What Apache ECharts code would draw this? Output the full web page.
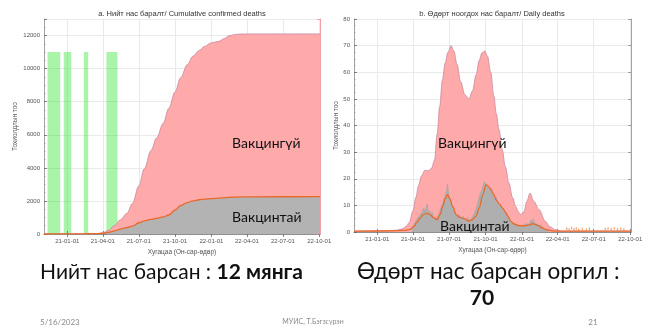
<!DOCTYPE html>
<html>
<head>
<meta charset="utf-8">
<script src="https://cdn.jsdelivr.net/npm/echarts@6/dist/echarts.min.js"></script>
<style>
html, body { margin: 0; padding: 0; background: #fff; }
#chart { width: 649px; height: 328px; }
</style>
</head>
<body>
<div id="chart"></div>
<script>
// ---- data ----
// quarterly tick dates shared by both panels
const tickDates = ['2021-01-01', '2021-04-01', '2021-07-01', '2021-10-01',
  '2022-01-01', '2022-04-01', '2022-07-01', '2022-10-01'];
const axisStart = '2020-11-03';
const axisEnd = '2022-10-03';

// lockdown periods (green bands)
const lockdownStarts = ['2020-11-12', '2020-12-23', '2021-02-12', '2021-04-10'];
const lockdownEnds = ['2020-12-14', '2021-01-11', '2021-02-23', '2021-05-08'];
const lockdownHeight = 11000;

// cumulative deaths
const cumDates = ['2020-11-03', '2020-12-15', '2021-01-15', '2021-02-15', '2021-03-05', '2021-03-20',
  '2021-04-01', '2021-04-15', '2021-05-01', '2021-05-15', '2021-06-01', '2021-06-15', '2021-07-01',
  '2021-07-15', '2021-08-01', '2021-08-15', '2021-09-01', '2021-09-15', '2021-10-01', '2021-10-15',
  '2021-11-01', '2021-11-15', '2021-12-01', '2021-12-15', '2022-01-01', '2022-01-20', '2022-02-01',
  '2022-02-15', '2022-03-01', '2022-03-15', '2022-04-15', '2022-10-03'];
const cumUnvaccinated = [0, 2, 5, 12, 20, 30, 70, 220, 520, 850, 1250, 1850, 2900, 3950, 5050, 5800,
  6700, 7600, 8600, 9450, 10250, 10750, 11100, 11350, 11560, 11650, 11800, 11980, 12060, 12090, 12100, 12100];
const cumVaccinated = [0, 2, 5, 12, 18, 25, 45, 100, 190, 290, 380, 480, 680, 790, 880, 950,
  1030, 1150, 1450, 1720, 1900, 2000, 2070, 2110, 2140, 2170, 2190, 2215, 2230, 2240, 2250, 2260];

// daily deaths without vaccination
const dailyDates = ['2020-11-03', '2020-12-15', '2021-01-20', '2021-02-20', '2021-03-05', '2021-03-15',
  '2021-03-22', '2021-04-01', '2021-04-08', '2021-04-15', '2021-04-22', '2021-05-01', '2021-05-10',
  '2021-05-18', '2021-05-25', '2021-06-01', '2021-06-07', '2021-06-14', '2021-06-21', '2021-06-28',
  '2021-07-06', '2021-07-13', '2021-07-21', '2021-07-30', '2021-08-10', '2021-08-20', '2021-08-29',
  '2021-09-07', '2021-09-15', '2021-09-22', '2021-09-29', '2021-10-06', '2021-10-14', '2021-10-22',
  '2021-10-28', '2021-11-04', '2021-11-12', '2021-11-20', '2021-11-29', '2021-12-08', '2021-12-16',
  '2021-12-23', '2021-12-29', '2022-01-06', '2022-01-13', '2022-01-21', '2022-01-31', '2022-02-13',
  '2022-03-01', '2022-03-12', '2022-03-27', '2022-04-10', '2022-10-03'];
const dailyUnvaccinated = [0.3, 0.3, 0.5, 0.7, 1.2, 2.2, 3.5, 8, 13, 17.5, 21, 23.2, 23, 24, 27, 37, 47,
  57, 63.5, 67.5, 70, 68, 63, 56.5, 51.5, 50, 53, 59, 64.5, 67.3, 68, 66, 60, 51, 44.5, 38.5, 31, 24.5,
  18.4, 13, 9.6, 7.5, 6.5, 7.7, 11.5, 14.6, 11.5, 8.4, 4, 2, 0.8, 0.3, 0.3];

// daily deaths with vaccination, smoothed
const smoothDates = ['2020-11-03', '2021-02-01', '2021-03-10', '2021-03-25', '2021-04-03', '2021-04-10',
  '2021-04-18', '2021-04-26', '2021-05-05', '2021-05-14', '2021-05-22', '2021-06-01', '2021-06-08',
  '2021-06-15', '2021-06-21', '2021-06-27', '2021-07-03', '2021-07-10', '2021-07-19', '2021-07-28',
  '2021-08-08', '2021-08-20', '2021-08-28', '2021-09-07', '2021-09-15', '2021-09-24', '2021-10-02',
  '2021-10-09', '2021-10-15', '2021-10-22', '2021-10-28', '2021-11-05', '2021-11-13', '2021-11-20',
  '2021-11-26', '2021-12-04', '2021-12-12', '2021-12-25', '2022-01-08', '2022-01-20', '2022-01-28',
  '2022-02-05', '2022-02-12', '2022-02-20', '2022-03-03', '2022-03-15', '2022-03-25', '2022-10-03'];
const dailyVaccinatedSmooth = [0.3, 0.4, 0.6, 1, 2, 3.5, 5, 6.5, 7, 6.5, 5.5, 4.6, 6.5, 9.6, 12.5, 14,
  12.5, 9.5, 6.5, 5.5, 5, 4.2, 4.5, 6, 9, 14, 17.8, 17, 15.8, 14, 12, 10.5, 9, 7.5, 6, 4, 3, 2.4, 2.3,
  2.7, 3.1, 2.8, 2.2, 1.6, 0.9, 0.5, 0.3, 0.3];

// daily deaths with vaccination, every third day from barStart
const barStart = '2021-03-29';
const barStepDays = 3;
const dailyVaccinated = [
  1.5, 2, 3, 3.5, 4.5, 4, 6, 5.5, 7, 6.5, 9, 7.5, 8, 10.5, 7, 8, 6, 7.5, 5.5, 6,
  4.5, 5, 6, 7, 8.5, 10, 11, 12.5, 13, 15, 18, 14, 13.5, 11, 10, 9, 7.5, 7, 6.5, 5.5,
  6.5, 5, 5.5, 6, 4.5, 5, 4, 5.5, 4, 4.5, 5, 5.5, 6.5, 7, 8.5, 10, 12, 13.5, 15, 16,
  17.5, 19, 18.5, 17, 17.5, 16, 15.5, 16.5, 14, 13.5, 12, 13, 11, 11.5, 10, 10.5, 9, 8.5, 8, 7,
  6.5, 5.5, 5, 4, 3.5, 3, 3.5, 2.5, 3, 2.5, 3, 2, 2.5, 2, 2.5, 3, 2.5, 3, 3.5, 3,
  4.5, 3.5, 5, 3.5, 4, 3, 3.5, 2.5, 2, 2.5, 1.5, 1.5, 1, 1, 0.8, 0.6, 0.5];

// scattered later deaths with vaccination
const tailDates = ['2022-04-24', '2022-04-30', '2022-05-06', '2022-05-12', '2022-05-18', '2022-05-24',
  '2022-06-02', '2022-06-12', '2022-06-20', '2022-07-30', '2022-08-06', '2022-08-14', '2022-08-22',
  '2022-08-30', '2022-09-07', '2022-09-15'];
const tailValues = [1.2, 0.9, 1.5, 1, 1.3, 0.8, 1.1, 0.9, 1.2, 1, 1.3, 1.1, 1.4, 1, 1.2, 0.9];

// ---- helpers ----
function ts(s) {
  const p = s.split('-').map(Number);
  return new Date(p[0], p[1] - 1, p[2]).getTime();
}
function pairs(dates, vals) { return dates.map((d, i) => [ts(d), vals[i]]); }
function pad(n) { return (n < 10 ? '0' : '') + n; }
function fmtDate(v) {
  const d = new Date(v);
  return pad(d.getFullYear() % 100) + '-' + pad(d.getMonth() + 1) + '-' + pad(d.getDate());
}
const barBase = barStart.split('-').map(Number);
const barData = dailyVaccinated.map((v, i) =>
  [new Date(barBase[0], barBase[1] - 1, barBase[2] + i * barStepDays).getTime(), v]);

const tickTs = tickDates.map(ts);
const xMin = ts(axisStart), xMax = ts(axisEnd);
const axisFont = 'Liberation Sans, Arial, sans-serif';
const slideFont = 'Lato, "Noto Sans", sans-serif';
const frameColor = '#8c8c8c';
const gridColor = '#e4e4e4';

// dates live on a numeric axis (ms timestamps) so the quarterly ticks can be listed explicitly
function bottomX(gi) {
  return {
    gridIndex: gi, type: 'value', min: xMin, max: xMax, position: 'bottom',
    axisLine: { lineStyle: { color: frameColor, width: 0.8 } },
    axisTick: { inside: true, length: 3, customValues: tickTs, lineStyle: { color: '#666', width: 0.8 } },
    axisLabel: { customValues: tickTs, formatter: fmtDate, fontSize: 6, color: '#555', margin: 4, fontFamily: axisFont },
    splitLine: { show: true, lineStyle: { color: gridColor, width: 0.8 } },
    name: 'Хугацаа (Он-сар-өдөр)', nameLocation: 'middle', nameGap: 14,
    nameTextStyle: { fontSize: 6.5, color: '#555', fontFamily: axisFont }
  };
}
function topX(gi) {
  return {
    gridIndex: gi, type: 'value', min: xMin, max: xMax, position: 'top',
    axisLine: { lineStyle: { color: frameColor, width: 0.8 } },
    axisTick: { inside: true, length: 3, customValues: tickTs, lineStyle: { color: '#666', width: 0.8 } },
    axisLabel: { show: false }, splitLine: { show: false }
  };
}
function leftY(gi, max, interval, nameGap) {
  return {
    gridIndex: gi, type: 'value', min: 0, max: max, interval: interval, position: 'left',
    axisLine: { show: true, lineStyle: { color: frameColor, width: 0.8 } },
    axisTick: { show: true, inside: true, length: 3, lineStyle: { color: '#666', width: 0.8 } },
    minorTick: { show: true, splitNumber: 4, length: 1.5, lineStyle: { color: '#888', width: 0.6 } },
    axisLabel: { fontSize: 6, color: '#555', margin: 4, fontFamily: axisFont,
      showMaxLabel: max % interval === 0, formatter: v => String(v) },
    splitLine: { show: true, lineStyle: { color: gridColor, width: 0.8 } },
    name: 'Тохиолдлын тоо', nameLocation: 'middle', nameGap: nameGap,
    nameTextStyle: { fontSize: 6.5, color: '#555', fontFamily: axisFont }
  };
}
function rightY(gi, max, interval, lineColor) {
  return {
    gridIndex: gi, type: 'value', min: 0, max: max, interval: interval, position: 'right',
    axisLine: { show: true, lineStyle: { color: lineColor, width: 0.8 } },
    axisTick: { show: true, inside: true, length: 3, lineStyle: { color: lineColor, width: 0.8 } },
    axisLabel: { show: false }, splitLine: { show: false }
  };
}

const peakDaily = Math.max.apply(null, dailyUnvaccinated);
const totalThousands = Math.round(Math.max.apply(null, cumUnvaccinated) / 1000);

const chart = echarts.init(document.getElementById('chart'), null, { renderer: 'canvas' });
chart.setOption({
  animation: false,
  backgroundColor: '#fff',
  grid: [
    { left: 44, top: 19, width: 276, height: 215 },
    { left: 354, top: 19, width: 277, height: 213 }
  ],
  xAxis: [bottomX(0), topX(0), bottomX(1), topX(1)],
  yAxis: [leftY(0, 13000, 2000, 25), rightY(0, 13000, 2000, '#f08c8c'),
          leftY(1, 80, 10, 12), rightY(1, 80, 10, frameColor)],
  series: [
    {
      name: 'Вакцингүй', type: 'line', xAxisIndex: 0, yAxisIndex: 0,
      data: pairs(cumDates, cumUnvaccinated), smooth: 0.35, smoothMonotone: 'x', symbol: 'none',
      lineStyle: { color: '#c0809c', width: 0.7 }, areaStyle: { color: '#ffaaaa', opacity: 1 }, z: 2
    },
    {
      name: 'Вакцинтай', type: 'line', xAxisIndex: 0, yAxisIndex: 0,
      data: pairs(cumDates, cumVaccinated), smooth: 0.35, smoothMonotone: 'x', symbol: 'none',
      lineStyle: { color: '#e8692a', width: 1.3 }, areaStyle: { color: '#b3b3b3', opacity: 1 }, z: 3
    },
    {
      name: 'lockdown', type: 'line', xAxisIndex: 0, yAxisIndex: 0, data: [], z: 5,
      markArea: {
        silent: true,
        itemStyle: { color: 'rgba(30,225,30,0.38)' },
        data: lockdownStarts.map((s, i) => [
          { xAxis: ts(s), yAxis: 0 }, { xAxis: ts(lockdownEnds[i]), yAxis: lockdownHeight }
        ])
      }
    },
    {
      name: 'Вакцингүй', type: 'line', xAxisIndex: 2, yAxisIndex: 2,
      data: pairs(dailyDates, dailyUnvaccinated), smooth: 0.35, smoothMonotone: 'x', symbol: 'none',
      lineStyle: { color: '#c0809c', width: 0.7 }, areaStyle: { color: '#ffaaaa', opacity: 1 }, z: 2
    },
    {
      // raw daily counts drawn as a dense gray fill with a jagged top
      name: 'Вакцинтай', type: 'line', xAxisIndex: 2, yAxisIndex: 2,
      data: barData, symbol: 'none',
      lineStyle: { color: '#a2a2a2', width: 0.6 }, areaStyle: { color: '#afafaf', opacity: 1 }, z: 3
    },
    {
      name: 'Вакцинтай', type: 'scatter', xAxisIndex: 2, yAxisIndex: 2,
      data: pairs(tailDates, tailValues), symbol: 'rect', symbolSize: [1.2, 2.5],
      itemStyle: { color: '#ec8a4a' }, z: 3
    },
    {
      name: 'Вакцинтай', type: 'line', xAxisIndex: 2, yAxisIndex: 2,
      data: pairs(smoothDates, dailyVaccinatedSmooth), smooth: 0.35, smoothMonotone: 'x', symbol: 'none',
      lineStyle: { color: '#e8692a', width: 1.3 }, z: 4
    }
  ],
  graphic: [
    { type: 'text', x: 182, y: 14, style: { text: 'a. Нийт нас баралт/ Cumulative confirmed deaths',
      align: 'center', verticalAlign: 'middle', textAlign: 'center', textVerticalAlign: 'middle',
      fontSize: 7.5, fontFamily: axisFont, fill: '#333' } },
    { type: 'text', x: 492, y: 14, style: { text: 'b. Өдөрт ноогдох нас баралт/ Daily deaths',
      align: 'center', verticalAlign: 'middle', textAlign: 'center', textVerticalAlign: 'middle',
      fontSize: 7.5, fontFamily: axisFont, fill: '#333' } },
    { type: 'text', x: 232, y: 143, z: 10, style: { text: 'Вакцингүй', verticalAlign: 'middle', textVerticalAlign: 'middle',
      fontSize: 14, fontFamily: slideFont, fill: '#111' } },
    { type: 'text', x: 232, y: 217, z: 10, style: { text: 'Вакцинтай', verticalAlign: 'middle', textVerticalAlign: 'middle',
      fontSize: 14, fontFamily: slideFont, fill: '#111' } },
    { type: 'text', x: 438, y: 143, z: 10, style: { text: 'Вакцингүй', verticalAlign: 'middle', textVerticalAlign: 'middle',
      fontSize: 14, fontFamily: slideFont, fill: '#111' } },
    { type: 'text', x: 440, y: 226, z: 10, style: { text: 'Вакцинтай', verticalAlign: 'middle', textVerticalAlign: 'middle',
      fontSize: 14, fontFamily: slideFont, fill: '#111' } },
    { type: 'text', x: 40, y: 272, style: {
      text: '{a|Нийт нас барсан : }{b|' + totalThousands + ' мянга}',
      verticalAlign: 'middle', textVerticalAlign: 'middle',
      rich: {
        a: { fontSize: 21, fontFamily: slideFont, fill: '#111', color: '#111' },
        b: { fontSize: 21, fontFamily: slideFont, fontWeight: 'bold', fill: '#111', color: '#111' }
      } } },
    { type: 'text', x: 357, y: 272, style: { text: 'Өдөрт нас барсан оргил :',
      verticalAlign: 'middle', textVerticalAlign: 'middle', fontSize: 22.5, fontFamily: slideFont, fill: '#111' } },
    { type: 'text', x: 482, y: 298, style: { text: String(Math.round(peakDaily)),
      align: 'center', verticalAlign: 'middle', textAlign: 'center', textVerticalAlign: 'middle',
      fontSize: 21, fontWeight: 'bold', fontFamily: slideFont, fill: '#111' } },
    { type: 'text', x: 40, y: 322, style: { text: '5/16/2023', verticalAlign: 'middle', textVerticalAlign: 'middle',
      fontSize: 8, fontFamily: slideFont, fill: '#8a8a8a' } },
    { type: 'text', x: 313, y: 322, style: { text: 'МУИС, Т.Бэгзсүрэн', align: 'center', textAlign: 'center',
      verticalAlign: 'middle', textVerticalAlign: 'middle', fontSize: 7, fontFamily: slideFont, fill: '#8a8a8a' } },
    { type: 'text', x: 593, y: 322, style: { text: '21', align: 'center', textAlign: 'center',
      verticalAlign: 'middle', textVerticalAlign: 'middle', fontSize: 8, fontFamily: slideFont, fill: '#8a8a8a' } }
  ]
});
</script>
</body>
</html>
